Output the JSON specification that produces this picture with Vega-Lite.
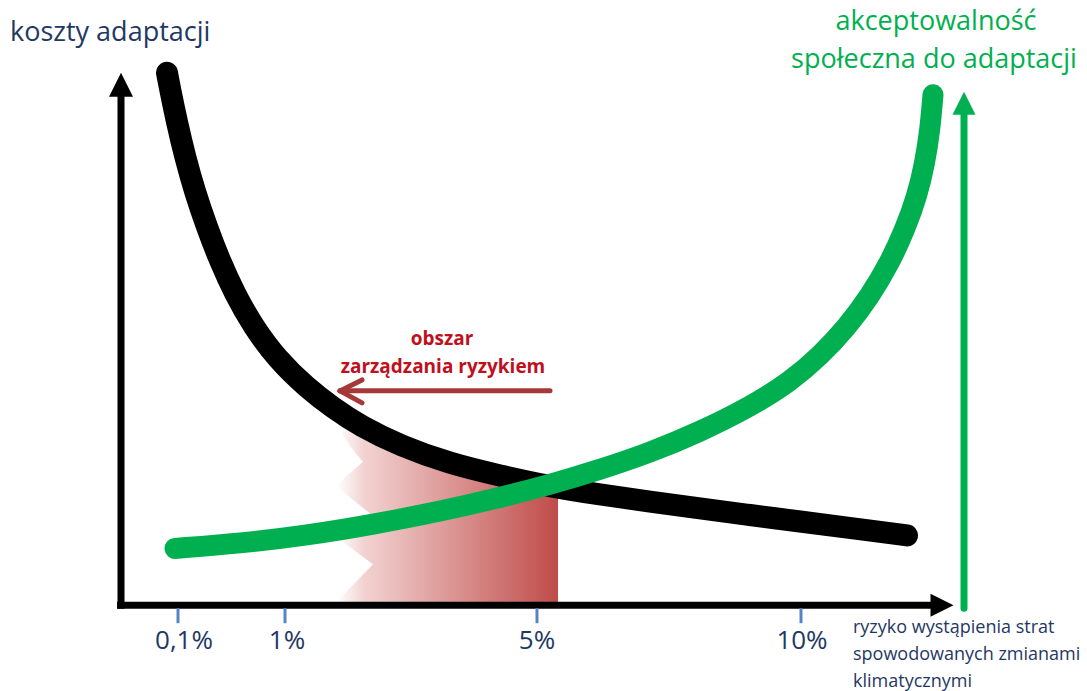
{
  "$schema": "https://vega.github.io/schema/vega-lite/v6.json",
  "width": 1087,
  "height": 691,
  "padding": 0,
  "autosize": {"type": "fit", "contains": "padding"},
  "background": "white",
  "config": {"view": {"stroke": null}, "text": {"font": "Open Sans"}},
  "encoding": {
    "x": {"field": "x", "type": "quantitative", "scale": {"domain": [-120, 967], "nice": false, "zero": false}, "axis": null},
    "y": {"field": "y", "type": "quantitative", "scale": {"domain": [-84, 607], "nice": false, "zero": false}, "axis": null}
  },
  "layer": [
    {
      "data": {"values": [
        {"y": 182, "x": 223, "x2": 240},
        {"y": 170, "x": 223, "x2": 262},
        {"y": 160, "x": 230, "x2": 280},
        {"y": 152, "x": 236, "x2": 303},
        {"y": 144, "x": 243, "x2": 328},
        {"y": 137, "x": 235, "x2": 353},
        {"y": 130, "x": 227, "x2": 380},
        {"y": 124, "x": 221, "x2": 407},
        {"y": 120, "x": 217, "x2": 425},
        {"y": 117, "x": 219, "x2": 438},
        {"y": 92, "x": 250, "x2": 438},
        {"y": 67, "x": 218, "x2": 438},
        {"y": 41, "x": 253, "x2": 438},
        {"y": 4, "x": 217, "x2": 438},
        {"y": 0, "x": 217, "x2": 438}
      ]},
      "mark": {"type": "area", "orient": "horizontal", "interpolate": "linear",
        "color": {"gradient": "linear", "x1": 0, "x2": 1, "y1": 0, "y2": 0,
          "stops": [{"offset": 0, "color": "#ffffff"}, {"offset": 0.12, "color": "#f2d3d2"}, {"offset": 1, "color": "#bf4c49"}]}},
      "encoding": {"x2": {"field": "x2"}}
    },
    {
      "data": {"values": [
        {"x": 220, "y": 215, "x2": 430, "y2": 215},
        {"x": 220, "y": 215, "x2": 242, "y2": 226},
        {"x": 220, "y": 215, "x2": 242, "y2": 203}
      ]},
      "mark": {"type": "rule", "color": "#a53838", "strokeWidth": 5, "strokeCap": "round"},
      "encoding": {"x2": {"field": "x2"}, "y2": {"field": "y2"}}
    },
    {
      "data": {"values": [
        {"x": 47, "y": 534}, {"x": 50, "y": 518}, {"x": 57, "y": 484}, {"x": 65, "y": 450},
        {"x": 75, "y": 414}, {"x": 87, "y": 379}, {"x": 100, "y": 345}, {"x": 115, "y": 312},
        {"x": 133, "y": 280}, {"x": 157, "y": 247}, {"x": 187, "y": 218}, {"x": 213, "y": 198},
        {"x": 240, "y": 180}, {"x": 280, "y": 160}, {"x": 330, "y": 142}, {"x": 380, "y": 130},
        {"x": 430, "y": 119}, {"x": 480, "y": 111}, {"x": 530, "y": 104}, {"x": 580, "y": 97},
        {"x": 630, "y": 90.5}, {"x": 680, "y": 84}, {"x": 730, "y": 77.5}, {"x": 787, "y": 70}
      ]},
      "mark": {"type": "line", "color": "black", "strokeWidth": 22, "strokeCap": "round", "interpolate": "basis"}
    },
    {
      "data": {"values": [
        {"x": 55, "y": 57}, {"x": 120, "y": 62}, {"x": 187, "y": 70}, {"x": 253, "y": 81},
        {"x": 320, "y": 94}, {"x": 380, "y": 108}, {"x": 430, "y": 121}, {"x": 480, "y": 136},
        {"x": 530, "y": 153}, {"x": 580, "y": 174}, {"x": 630, "y": 199}, {"x": 670, "y": 224},
        {"x": 700, "y": 250}, {"x": 727, "y": 279}, {"x": 750, "y": 310}, {"x": 770, "y": 344},
        {"x": 785, "y": 377}, {"x": 797, "y": 410}, {"x": 805, "y": 444}, {"x": 810, "y": 477},
        {"x": 813, "y": 512}
      ]},
      "mark": {"type": "line", "color": "#00b050", "strokeWidth": 21, "strokeCap": "round", "interpolate": "basis"}
    },
    {
      "data": {"values": [
        {"x": -3, "y": 0, "x2": 812, "y2": 0},
        {"x": 1, "y": -3.5, "x2": 1, "y2": 512}
      ]},
      "mark": {"type": "rule", "color": "black", "strokeWidth": 7},
      "encoding": {"x2": {"field": "x2"}, "y2": {"field": "y2"}}
    },
    {
      "data": {"values": [{"x": 844, "y": -3, "x2": 844, "y2": 494}]},
      "mark": {"type": "rule", "color": "#00b050", "strokeWidth": 7, "strokeCap": "round"},
      "encoding": {"x2": {"field": "x2"}, "y2": {"field": "y2"}}
    },
    {
      "data": {"values": [
        {"x": 58, "y": -3, "x2": 58, "y2": -18},
        {"x": 165, "y": -3, "x2": 165, "y2": -18},
        {"x": 417, "y": -3, "x2": 417, "y2": -18},
        {"x": 681, "y": -3, "x2": 681, "y2": -18}
      ]},
      "mark": {"type": "rule", "color": "#5585c4", "strokeWidth": 3},
      "encoding": {"x2": {"field": "x2"}, "y2": {"field": "y2"}}
    },
    {
      "data": {"values": [{"x": 1, "y": 522}]},
      "mark": {"type": "point", "shape": "M0,-1L1,1L-1,1Z", "size": 576, "filled": true, "color": "black", "opacity": 1, "strokeWidth": 0}
    },
    {
      "data": {"values": [{"x": 822, "y": 0}]},
      "mark": {"type": "point", "shape": "M1,0L-1,-1L-1,1Z", "size": 529, "filled": true, "color": "black", "opacity": 1, "strokeWidth": 0}
    },
    {
      "data": {"values": [{"x": 844, "y": 503.5}]},
      "mark": {"type": "point", "shape": "M0,-1L1,1L-1,1Z", "size": 529, "filled": true, "color": "#00b050", "opacity": 1, "strokeWidth": 0}
    },
    {
      "data": {"values": [{"x": -110, "y": 574, "t": "koszty adaptacji"}]},
      "mark": {"type": "text", "align": "left", "baseline": "middle", "fontSize": 27, "color": "#1f3864"},
      "encoding": {"text": {"field": "t"}}
    },
    {
      "data": {"values": [
        {"x": 816, "y": 585, "t": "akceptowalność"},
        {"x": 814, "y": 547, "t": "społeczna do adaptacji"}
      ]},
      "mark": {"type": "text", "align": "center", "baseline": "middle", "fontSize": 27, "color": "#00b050"},
      "encoding": {"text": {"field": "t"}}
    },
    {
      "data": {"values": [
        {"x": 322, "y": 267, "t": "obszar"},
        {"x": 323, "y": 239, "t": "zarządzania ryzykiem"}
      ]},
      "mark": {"type": "text", "align": "center", "baseline": "middle", "fontSize": 19, "fontWeight": "bold", "color": "#c0101c"},
      "encoding": {"text": {"field": "t"}}
    },
    {
      "data": {"values": [
        {"x": 64, "y": -36, "t": "0,1%"},
        {"x": 167, "y": -36, "t": "1%"},
        {"x": 417, "y": -36, "t": "5%"},
        {"x": 682, "y": -36, "t": "10%"}
      ]},
      "mark": {"type": "text", "align": "center", "baseline": "middle", "fontSize": 26, "color": "#1f3864"},
      "encoding": {"text": {"field": "t"}}
    },
    {
      "data": {"values": [
        {"x": 733, "y": -23, "t": "ryzyko wystąpienia strat"},
        {"x": 733, "y": -50, "t": "spowodowanych zmianami"},
        {"x": 733, "y": -77, "t": "klimatycznymi"}
      ]},
      "mark": {"type": "text", "align": "left", "baseline": "middle", "fontSize": 18, "color": "#1f3864"},
      "encoding": {"text": {"field": "t"}}
    }
  ]
}
